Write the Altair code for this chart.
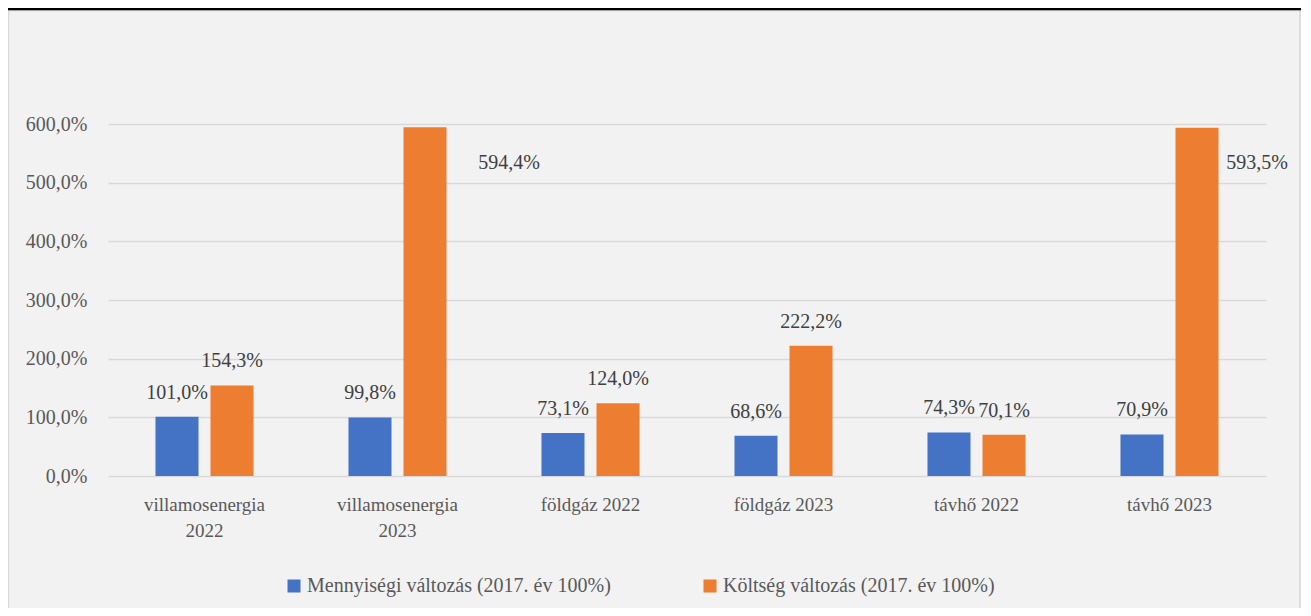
import altair as alt
import pandas as pd

categories = ["villamosenergia 2022", "villamosenergia 2023", "földgáz 2022",
              "földgáz 2023", "távhő 2022", "távhő 2023"]
series = ["Mennyiségi változás  (2017. év 100%)", "Költség változás (2017. év 100%)"]
quantity = [101.0, 99.8, 73.1, 68.6, 74.3, 70.9]
cost = [154.3, 594.4, 124.0, 222.2, 70.1, 593.5]
y_ticks = [0, 100, 200, 300, 400, 500, 600]
colors = ["#4472C4", "#ED7D31"]

rows = []
for c, q, k in zip(categories, quantity, cost):
    rows.append({"cat": c, "series": series[0], "value": q})
    rows.append({"cat": c, "series": series[1], "value": k})
df = pd.DataFrame(rows)

FONT = "'Liberation Serif', 'Times New Roman', 'DejaVu Serif', serif"
LABEL_EXPR = "replace(format(datum.value, '.1f'), '.', ',') + '%'"

x = alt.X(
    "cat:N", sort=categories,
    scale=alt.Scale(paddingInner=0.492, paddingOuter=0.246),
    axis=alt.Axis(title=None, labelAngle=0, labelFont=FONT, labelFontSize=19,
                  labelColor="#595959", labelPadding=19, labelLineHeight=26,
                  labelExpr="length(datum.label) > 15 ? split(datum.label, ' ') : datum.label",
                  domain=False, ticks=False),
)
xo = alt.XOffset("series:N", sort=series, scale=alt.Scale(paddingInner=0.218))
y = alt.Y(
    "value:Q", scale=alt.Scale(domain=[0, 600], nice=False),
    axis=alt.Axis(title=None, values=y_ticks, labelExpr=LABEL_EXPR, labelFont=FONT,
                  labelFontSize=20, labelColor="#595959", labelPadding=21,
                  ticks=False, domain=False, gridColor="#D9D9D9", gridWidth=1.5),
)
color = alt.Color(
    "series:N", sort=series,
    scale=alt.Scale(domain=series, range=colors),
    legend=alt.Legend(title=None, orient="none", legendX=176, legendY=452,
                      direction="horizontal", symbolType="square", symbolSize=169,
                      symbolStrokeWidth=0, labelFont=FONT, labelFontSize=20,
                      labelColor="#595959", labelOffset=3, columnPadding=84,
                      labelLimit=600),
)

base = alt.Chart(df).transform_calculate(label=LABEL_EXPR)

bars = base.mark_bar().encode(x=x, xOffset=xo, y=y, color=color)

text_kw = dict(font=FONT, fontSize=20, color="#404040", baseline="middle", align="center")
text_small = base.transform_filter("datum.value < 500").mark_text(dy=-24, **text_kw).encode(
    x=x, xOffset=xo, y=y, text="label:N")
text_big1 = base.transform_filter(
    "datum.value >= 500 && datum.cat == 'villamosenergia 2023'"
).mark_text(dx=84, dy=36, **text_kw).encode(x=x, xOffset=xo, y=y, text="label:N")
text_big2 = base.transform_filter(
    "datum.value >= 500 && datum.cat == 'távhő 2023'"
).mark_text(dx=60, dy=35, **text_kw).encode(x=x, xOffset=xo, y=y, text="label:N")

deco = alt.Chart(pd.DataFrame({"d": [0]}))
frame = deco.mark_rect(fill=None, stroke="#D9D9D9", strokeWidth=1.5).encode(
    x=alt.value(-99.5), x2=alt.value(1192), y=alt.value(-113.5), y2=alt.value(495))
topline = deco.mark_rule(color="black", strokeWidth=2.5).encode(
    x=alt.value(-100), x2=alt.value(1193), y=alt.value(-115))

chart = alt.layer(frame, topline, bars, text_small, text_big1, text_big2).properties(
    width=1158, height=352,
    autosize=alt.AutoSizeParams(type="none"),
    padding={"left": 100, "top": 116, "right": 35, "bottom": 132},
    background="#F2F2F2",
).configure_view(stroke=None)

chart.save("out.html", embed_options={"renderer": "svg", "actions": False})
